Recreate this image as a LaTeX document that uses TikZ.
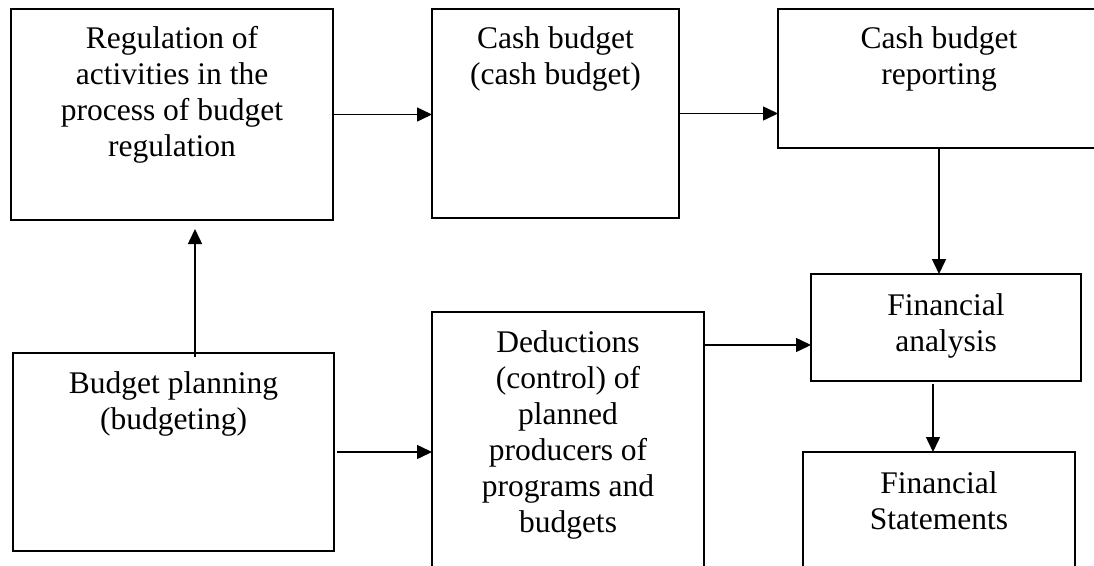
\documentclass[tikz,border=0pt]{standalone}
\usepackage{fontspec}
\setmainfont{Liberation Serif}
\usetikzlibrary{arrows.meta}
\begin{document}
\begin{tikzpicture}[x=1pt, y=-1pt,
  box/.style={draw, line width=2pt, rectangle, inner sep=0pt, outer sep=0pt, anchor=north west},
  txt/.style={anchor=base, inner sep=0pt, font=\fontsize{31.5}{36}\selectfont},
  arr/.style={line width=1.5pt, -{Triangle[length=15pt, width=14pt]}}]
  \useasboundingbox (0,0) rectangle (1094,565);
  \clip (0,0) rectangle (1094,565);

  % boxes
  \node[box, minimum width=322pt, minimum height=211pt] (reg) at (11,9) {};
  \node[box, minimum width=247pt, minimum height=209pt] (cash) at (432,9) {};
  \node[box, minimum width=322pt, minimum height=139pt] (rep) at (778,9) {};
  \node[box, minimum width=321pt, minimum height=198pt] (plan) at (13,353) {};
  \node[box, minimum width=272pt, minimum height=270pt] (ded) at (432,312) {};
  \node[box, minimum width=270pt, minimum height=107pt] (ana) at (811,274) {};
  \node[box, minimum width=272pt, minimum height=130pt] (stat) at (803,452) {};

  % box texts, first baseline about 40pt below the top edge
  \node[txt] (treg) at ([yshift=-39pt]reg.north) {\begin{tabular}[t]{@{}c@{}}Regulation of\\activities in the\\process of budget\\regulation\end{tabular}};
  \node[txt] (tcash) at ([yshift=-39pt]cash.north) {\begin{tabular}[t]{@{}c@{}}Cash budget\\(cash budget)\end{tabular}};
  \node[txt] (trep) at ([yshift=-39pt]rep.north) {\begin{tabular}[t]{@{}c@{}}Cash budget\\reporting\end{tabular}};
  \node[txt] (tplan) at ([yshift=-40pt]plan.north) {\begin{tabular}[t]{@{}c@{}}Budget planning\\(budgeting)\end{tabular}};
  \node[txt] (tded) at ([yshift=-40pt]ded.north) {\begin{tabular}[t]{@{}c@{}}Deductions\\(control) of\\planned\\producers of\\programs and\\budgets\end{tabular}};
  \node[txt] (tana) at ([yshift=-41pt]ana.north) {\begin{tabular}[t]{@{}c@{}}Financial\\analysis\end{tabular}};
  \node[txt] (tstat) at ([yshift=-41pt]stat.north) {\begin{tabular}[t]{@{}c@{}}Financial\\Statements\end{tabular}};

  % connector end points off the box centres
  \coordinate (dedout) at ([yshift=-33pt]ded.north east);
  \coordinate (anaout) at ([xshift=-13pt, yshift=-3pt]ana.south);
  \coordinate (planout) at ([xshift=21.5pt, yshift=-4pt]plan.north);

  % connectors
  \draw[arr] (reg.east) -- (cash.west |- reg.east);
  \draw[arr] (cash.east) -- (rep.west |- cash.east);
  \draw[arr] (rep.south) -- (ana.north -| rep.south);
  \draw[arr] (anaout) -- (anaout |- stat.north);
  \draw[arr] (dedout) -- (ana.west |- dedout);
  \draw[arr] ([xshift=3pt]plan.east) -- (ded.west |- plan.east);
  \draw[arr, shorten >=9pt] (planout) -- (planout |- reg.south);
\end{tikzpicture}
\end{document}
